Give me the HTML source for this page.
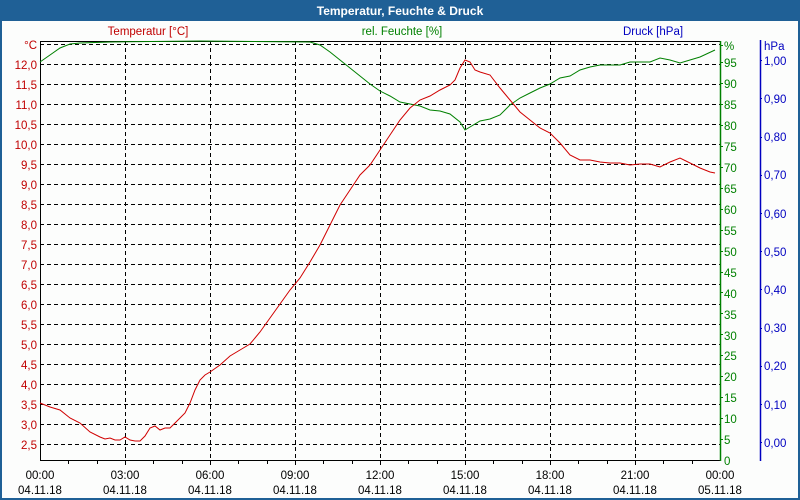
<!DOCTYPE html>
<html><head><meta charset="utf-8"><style>
html,body{margin:0;padding:0;background:#fff}
svg{display:block;font-family:"Liberation Sans",sans-serif}
</style></head><body>
<svg width="800" height="500" viewBox="0 0 800 500" xmlns="http://www.w3.org/2000/svg">
<rect x="0" y="0" width="800" height="500" fill="#1f6096"/>
<rect x="2" y="21" width="796" height="477" fill="#fcfdfc"/>
<text x="400" y="15" fill="#fff" font-size="12" font-weight="bold" text-anchor="middle">Temperatur, Feuchte &amp; Druck</text>
<g stroke="#000" stroke-dasharray="4,3" stroke-width="1">
<path d="M40 44.5H720M40 64.5H720M40 84.5H720M40 104.5H720M40 124.5H720M40 144.5H720M40 164.5H720M40 184.5H720M40 204.5H720M40 224.5H720M40 244.5H720M40 264.5H720M40 284.5H720M40 304.5H720M40 324.5H720M40 344.5H720M40 364.5H720M40 384.5H720M40 404.5H720M40 424.5H720M40 444.5H720"/>
<path d="M125.5 41V460M210.5 41V460M295.5 41V460M380.5 41V460M465.5 41V460M550.5 41V460M635.5 41V460"/>
</g>
<path d="M40 41.5H720M40.5 41V461M40 460.5H720" stroke="#000" fill="none"/>
<path d="M68.5 460v4M97.5 460v4M125.5 460v5M153.5 460v4M182.5 460v4M210.5 460v5M238.5 460v4M267.5 460v4M295.5 460v5M323.5 460v4M352.5 460v4M380.5 460v5M408.5 460v4M437.5 460v4M465.5 460v5M493.5 460v4M522.5 460v4M550.5 460v5M578.5 460v4M607.5 460v4M635.5 460v5M663.5 460v4M692.5 460v4" stroke="#000"/>
<path d="M720.5 41V461" stroke="#008000" stroke-width="1.5"/>
<path d="M760.5 40V461" stroke="#0000c0" stroke-width="1.5"/>
<g fill="#c00000" font-size="11.5" text-anchor="end">
<text x="37" y="49">°C</text>
<text x="37" y="69">12,0</text><text x="37" y="89">11,5</text><text x="37" y="109">11,0</text><text x="37" y="129">10,5</text><text x="37" y="149">10,0</text><text x="37" y="169">9,5</text><text x="37" y="189">9,0</text><text x="37" y="209">8,5</text><text x="37" y="229">8,0</text><text x="37" y="249">7,5</text><text x="37" y="269">7,0</text><text x="37" y="289">6,5</text><text x="37" y="309">6,0</text><text x="37" y="329">5,5</text><text x="37" y="349">5,0</text><text x="37" y="369">4,5</text><text x="37" y="389">4,0</text><text x="37" y="409">3,5</text><text x="37" y="429">3,0</text><text x="37" y="449">2,5</text>
</g>
<text x="148" y="35" fill="#c00000" font-size="11.5" text-anchor="middle">Temperatur [°C]</text>
<text x="402" y="35" fill="#008000" font-size="11.5" text-anchor="middle">rel. Feuchte [%]</text>
<text x="653" y="35" fill="#0000c0" font-size="11.5" text-anchor="middle">Druck [hPa]</text>
<g fill="#008000" font-size="11.5" stroke="#008000">
<text x="724" y="50" stroke="none">%</text>
</g>
<g fill="#008000" font-size="11.5">
<text x="724" y="67">95</text><text x="724" y="88">90</text><text x="724" y="109">85</text><text x="724" y="130">80</text><text x="724" y="151">75</text><text x="724" y="172">70</text><text x="724" y="193">65</text><text x="724" y="214">60</text><text x="724" y="235">55</text><text x="724" y="256">50</text><text x="724" y="277">45</text><text x="724" y="298">40</text><text x="724" y="319">35</text><text x="724" y="340">30</text><text x="724" y="360">25</text><text x="724" y="381">20</text><text x="724" y="402">15</text><text x="724" y="423">10</text><text x="724" y="444">5</text><text x="724" y="465">0</text>
</g>
<path d="M720 62.5h3M720 83.5h3M720 104.5h3M720 125.5h3M720 146.5h3M720 167.5h3M720 188.5h3M720 209.5h3M720 230.5h3M720 251.5h3M720 272.5h3M720 292.5h3M720 313.5h3M720 334.5h3M720 355.5h3M720 376.5h3M720 397.5h3M720 418.5h3M720 439.5h3M720 45.5h3" stroke="#008000"/>
<g fill="#0000c0" font-size="11.5">
<text x="764" y="50">hPa</text>
<text x="764" y="65">1,00</text><text x="764" y="103">0,90</text><text x="764" y="141">0,80</text><text x="764" y="179">0,70</text><text x="764" y="218">0,60</text><text x="764" y="256">0,50</text><text x="764" y="294">0,40</text><text x="764" y="332">0,30</text><text x="764" y="370">0,20</text><text x="764" y="409">0,10</text><text x="764" y="447">0,00</text>
</g>
<path d="M760 60.5h2M760 98.5h2M760 137.5h2M760 175.5h2M760 213.5h2M760 251.5h2M760 289.5h2M760 328.5h2M760 366.5h2M760 404.5h2M760 442.5h2" stroke="#0000c0"/>
<g fill="#000" font-size="11.5" text-anchor="middle">
<text x="40" y="479">00:00</text><text x="125" y="479">03:00</text><text x="210" y="479">06:00</text><text x="295" y="479">09:00</text><text x="380" y="479">12:00</text><text x="465" y="479">15:00</text><text x="550" y="479">18:00</text><text x="635" y="479">21:00</text><text x="720" y="479">00:00</text>
<text x="40" y="494">04.11.18</text><text x="125" y="494">04.11.18</text><text x="210" y="494">04.11.18</text><text x="295" y="494">04.11.18</text><text x="380" y="494">04.11.18</text><text x="465" y="494">04.11.18</text><text x="550" y="494">04.11.18</text><text x="635" y="494">04.11.18</text><text x="720" y="494">05.11.18</text>
</g>
<polyline fill="none" stroke="#008000" stroke-width="1" points="40,62 50,55 60,48 70,44 80,43 110,42 200,41 310,42 320,45 330,52 340,60 350,68 360,76 370,84 380,91 390,96 400,102 410,104 420,106 430,110 440,111 450,114 460,122 465,130 470,127 480,121 490,119 500,115 510,105 520,98 530,93 540,88 550,84 560,78 570,76 580,70 590,67 600,65 620,65 630,62 650,62 660,58 670,60 680,63 690,60 700,57 715,50"/>
<polyline fill="none" stroke="#d00000" stroke-width="1" points="40,403 50,407 60,410 70,418 80,423 90,432 100,437 105,439 110,438 115,440 120,440 125,437 130,440 135,441 140,441 145,436 150,428 155,426 160,430 165,428 170,428 175,423 180,418 185,413 190,403 195,390 200,380 205,375 210,372 220,365 230,356 240,350 250,344 260,332 270,318 280,304 290,290 300,278 310,262 320,245 330,225 340,205 350,190 360,175 370,165 380,150 390,135 400,120 410,108 420,100 430,96 440,90 450,85 455,80 460,68 465,60 470,62 475,70 480,72 490,75 500,88 510,100 520,112 530,120 540,128 550,133 560,143 570,155 580,160 590,160 600,162 610,163 620,163 630,165 640,164 650,164 660,167 670,162 680,158 690,163 700,168 710,172 715,173"/>
</svg>
</body></html>
